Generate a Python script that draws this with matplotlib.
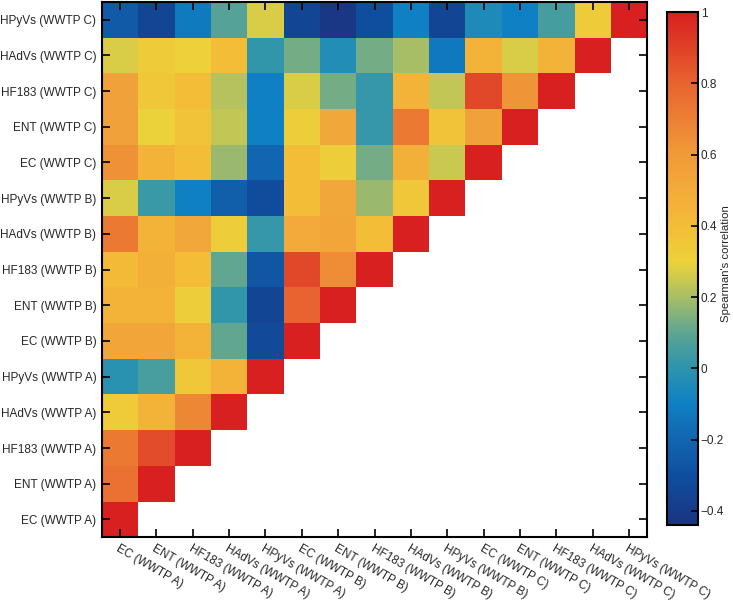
import numpy as np
import matplotlib
matplotlib.use("Agg")
from matplotlib import pyplot as plt
from matplotlib.colors import LinearSegmentedColormap

plt.rcParams['font.family'] = ['Liberation Sans', 'DejaVu Sans']

labels = ['EC (WWTP A)', 'ENT (WWTP A)', 'HF183 (WWTP A)', 'HAdVs (WWTP A)', 'HPyVs (WWTP A)',
          'EC (WWTP B)', 'ENT (WWTP B)', 'HF183 (WWTP B)', 'HAdVs (WWTP B)', 'HPyVs (WWTP B)',
          'EC (WWTP C)', 'ENT (WWTP C)', 'HF183 (WWTP C)', 'HAdVs (WWTP C)', 'HPyVs (WWTP C)']

# lower triangle rows, row i has i+1 values (columns 0..i)
rows = [
    [1.0],
    [0.75, 1.0],
    [0.72, 0.87, 1.0],
    [0.34, 0.45, 0.67, 1.0],
    [-0.01, 0.06, 0.35, 0.45, 1.0],
    [0.53, 0.53, 0.45, 0.10, -0.33, 1.0],
    [0.45, 0.45, 0.32, 0.01, -0.35, 0.80, 1.0],
    [0.42, 0.47, 0.40, 0.10, -0.27, 0.88, 0.65, 1.0],
    [0.72, 0.45, 0.52, 0.32, 0.02, 0.50, 0.53, 0.40, 1.0],
    [0.27, 0.03, -0.10, -0.23, -0.32, 0.40, 0.52, 0.18, 0.35, 1.0],
    [0.63, 0.45, 0.40, 0.18, -0.20, 0.40, 0.32, 0.13, 0.47, 0.25, 1.0],
    [0.55, 0.30, 0.37, 0.24, -0.10, 0.32, 0.52, 0.02, 0.72, 0.37, 0.55, 1.0],
    [0.55, 0.35, 0.40, 0.22, -0.10, 0.27, 0.13, 0.02, 0.45, 0.24, 0.88, 0.62, 1.0],
    [0.27, 0.33, 0.31, 0.40, 0.01, 0.13, -0.03, 0.13, 0.20, -0.13, 0.45, 0.27, 0.45, 1.0],
    [-0.25, -0.35, -0.12, 0.08, 0.27, -0.35, -0.42, -0.30, -0.10, -0.35, -0.05, -0.10, 0.05, 0.33, 1.0],
]

vmin, vmax = -0.44, 1.0
cvals = [-0.44, -0.3, -0.2, -0.1, 0.0, 0.1, 0.2, 0.3, 0.4, 0.5, 0.6, 0.8, 1.0]
ccols = ['#1a3480', '#0f4fa0', '#1266b0', '#0f80c4', '#2c94ae', '#5ea592', '#a8be66',
         '#ecd23a', '#f3bd38', '#f3aa3a', '#f09a38', '#e8642f', '#d82020']
cmap = LinearSegmentedColormap.from_list(
    'corr', list(zip([(v - vmin) / (vmax - vmin) for v in cvals], ccols)))

n = len(labels)
M = np.full((n, n), np.nan)
for i, r in enumerate(rows):
    M[i, :len(r)] = r
M = np.ma.masked_invalid(M)

fig = plt.figure(figsize=(7.33, 6.05), dpi=100)
ax = fig.add_axes([0.139, 0.112, 0.744, 0.885])
mesh = ax.pcolormesh(np.arange(n + 1) - 0.5, np.arange(n + 1) - 0.5, M,
                     cmap=cmap, vmin=vmin, vmax=vmax)
ax.set_xlim(-0.5, n - 0.5)
ax.set_ylim(-0.5, n - 0.5)
ax.set_xticks(range(n))
ax.set_yticks(range(n))
ax.set_yticklabels(labels, fontsize=8.5, color='#262626')
ax.set_xticklabels(labels, fontsize=8.5, color='#262626', rotation=-30,
                   ha='left', va='top', rotation_mode='anchor')
ax.tick_params(direction='in', length=6, width=1.2, top=True, right=True, pad=4)
for s in ax.spines.values():
    s.set_linewidth(1.5)

cax = fig.add_axes([0.910, 0.132, 0.042, 0.848])
cb = fig.colorbar(mesh, cax=cax)
cb.set_ticks([-0.4, -0.2, 0, 0.2, 0.4, 0.6, 0.8, 1])
cb.set_ticklabels(['\u22120.4', '\u22120.2', '0', '0.2', '0.4', '0.6', '0.8', '1'])
cax.tick_params(direction='in', length=5, width=1.2, labelsize=8.5, labelcolor='#262626', pad=2)
cb.outline.set_linewidth(1.5)
cb.set_label("Spearman's correlation", fontsize=8.2, color='#262626')
cax.yaxis.set_label_coords(1.76, 0.51)

fig.savefig('out.png', dpi=100)
